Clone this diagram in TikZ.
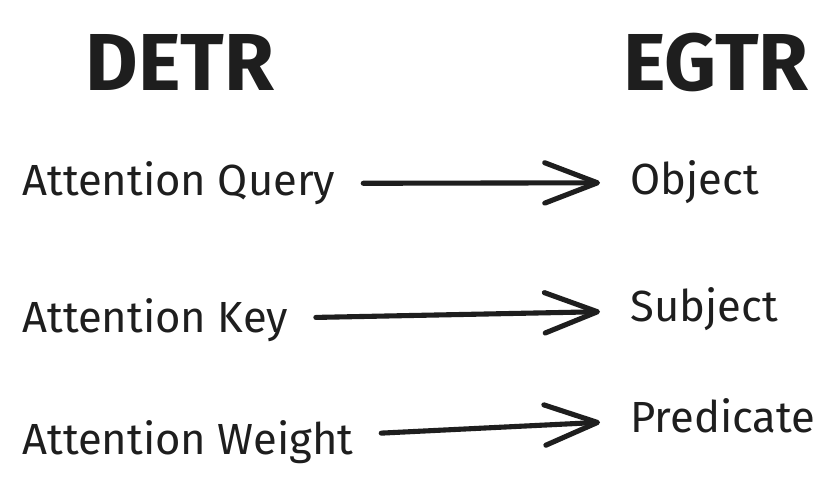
\documentclass[tikz,border=0pt]{standalone}
\usepackage{fontspec}
\setmainfont{Fira Sans}
\usetikzlibrary{arrows.meta}
\definecolor{ink}{HTML}{1E1E1E}
\tikzset{
  title/.style={font=\fontsize{46}{50}\selectfont\bfseries, text=ink},
  term/.style={font=\fontsize{24.8}{28}\selectfont, text=ink, anchor=base west, inner sep=0pt},
  maps/.style={draw=ink, line width=2.9pt, line cap=round,
    -{Straight Barb[length=30pt,width=23pt,round]},
    shorten <=0.55cm, shorten >=0.6cm}
}
\begin{document}
\begin{tikzpicture}[x=0.02cm,y=-0.02cm]
  \useasboundingbox[fill=white] (0,0) rectangle (839,486);
  % headings
  \node[title] (detr) at (180,62) {DETR};
  \node[title] (egtr) at (716,62) {EGTR};
  % DETR side
  \node[term] (query)  at (22,196) {Attention Query};
  \node[term] (key)    at (22,333) {Attention Key};
  \node[term] (weight) at (22,455) {Attention Weight};
  % EGTR side
  \node[term] (object)    at (630,195) {Object};
  \node[term] (subject)   at (630,322) {Subject};
  \node[term] (predicate) at (630,433) {Predicate};
  \draw[maps] (query)  -- (object);
  \draw[maps] (key)    -- (subject);
  \draw[maps] (weight) -- (predicate);
\end{tikzpicture}
\end{document}
